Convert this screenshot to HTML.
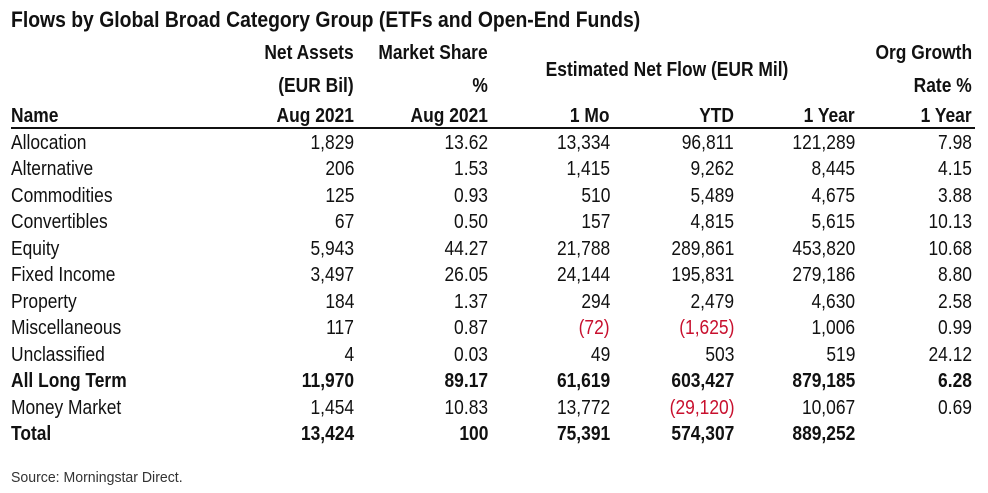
<!DOCTYPE html>
<html><head><meta charset="utf-8"><style>
body{margin:0;width:988px;height:493px;background:#fff;overflow:hidden;position:relative;font-family:"Liberation Sans",Arial,sans-serif;color:#111}
.c{position:absolute;font-size:20px;line-height:22px;white-space:nowrap;transform:scaleX(.87)}
.l{transform-origin:left center}
.r{transform-origin:right center;text-align:right}
.b{font-weight:bold;transform:scaleX(.87)}
.red{color:#c8102e}
</style></head><body>
<div class="c l b" style="left:11px;top:9px;font-size:22px;transform:scaleX(.88)">Flows by Global Broad Category Group (ETFs and Open-End Funds)</div>
<div style="position:absolute;left:11px;top:127px;width:964px;height:2px;background:#111"></div>
<div class="c l" style="left:11px;top:467px;font-size:15px;color:#333;transform:scaleX(.94)">Source: Morningstar Direct.</div>
<script>
var cols=[354,488,610,734,855,972];
function R(x,y,t,cls){var d=document.createElement('div');d.className='c r '+(cls||'');d.style.right=(988-x)+'px';d.style.top=(y-11)+'px';d.innerHTML=t;document.body.appendChild(d);}
function L(x,y,t,cls){var d=document.createElement('div');d.className='c l '+(cls||'');d.style.left=x+'px';d.style.top=(y-11)+'px';d.innerHTML=t;document.body.appendChild(d);}
R(354,53,'Net Assets','b');R(488,53,'Market Share','b');R(972,53,'Org Growth','b');
R(354,86,'(EUR Bil)','b');R(488,86,'%','b');R(972,86,'Rate %','b');
var e=document.createElement('div');e.className='c b';e.style.cssText='left:467px;width:400px;text-align:center;top:59px;transform-origin:center';e.innerHTML='Estimated Net Flow (EUR Mil)';document.body.appendChild(e);
L(11,116,'Name','b');
var h=['Aug 2021','Aug 2021','1 Mo','YTD','1 Year','1 Year'];
h.forEach(function(t,i){R(cols[i],116,t,'b')});
var rows=[
['Allocation','1,829','13.62','13,334','96,811','121,289','7.98'],
['Alternative','206','1.53','1,415','9,262','8,445','4.15'],
['Commodities','125','0.93','510','5,489','4,675','3.88'],
['Convertibles','67','0.50','157','4,815','5,615','10.13'],
['Equity','5,943','44.27','21,788','289,861','453,820','10.68'],
['Fixed Income','3,497','26.05','24,144','195,831','279,186','8.80'],
['Property','184','1.37','294','2,479','4,630','2.58'],
['Miscellaneous','117','0.87','<span class="red">(72)</span>','<span class="red">(1,625)</span>','1,006','0.99'],
['Unclassified','4','0.03','49','503','519','24.12'],
['All Long Term','11,970','89.17','61,619','603,427','879,185','6.28','b'],
['Money Market','1,454','10.83','13,772','<span class="red">(29,120)</span>','10,067','0.69'],
['Total','13,424','100','75,391','574,307','889,252','','b']];
rows.forEach(function(r,i){var y=143+i*26.45;var cls=r[7]||'';L(11,y,r[0],cls);for(var j=0;j<6;j++)if(r[j+1])R(cols[j],y,r[j+1],cls);});
</script>
</body></html>
